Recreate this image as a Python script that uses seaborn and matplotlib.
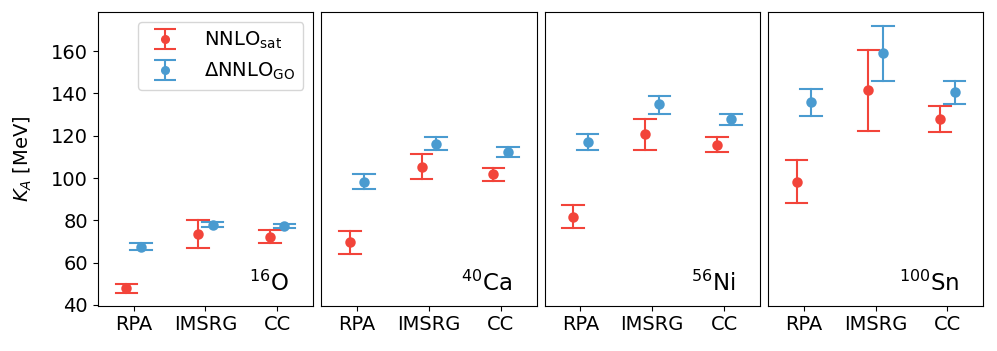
import numpy as np
import pandas as pd
import matplotlib
matplotlib.use("Agg")
import matplotlib.pyplot as plt
import seaborn as sns

methods = ["RPA", "IMSRG", "CC"]
nuclei = [r"$^{16}$O", r"$^{40}$Ca", r"$^{56}$Ni", r"$^{100}$Sn"]

# NNLO_sat: central value, lower and upper end of the error bar (per nucleus, per method)
sat_val = [[47.8, 73.6, 72.3], [69.6, 105.4, 101.8], [81.8, 120.7, 115.7], [98.3, 141.5, 128.0]]
sat_lo = [[45.8, 66.8, 69.5], [64.3, 99.6, 98.8], [76.3, 113.2, 112.2], [88.4, 122.2, 121.7]]
sat_hi = [[49.9, 80.2, 75.5], [74.8, 111.3, 104.6], [87.3, 128.1, 119.3], [108.3, 160.6, 134.1]]

# DeltaNNLO_GO
go_val = [[67.6, 78.0, 77.4], [98.3, 116.3, 112.2], [116.9, 134.9, 127.8], [135.9, 159.0, 140.6]]
go_lo = [[66.0, 76.9, 76.4], [94.6, 113.2, 110.0], [113.2, 130.5, 125.1], [129.4, 146.1, 134.8]]
go_hi = [[69.2, 79.4, 78.3], [102.1, 119.6, 114.7], [120.6, 139.0, 130.5], [142.3, 172.1, 146.1]]

labels = [r"NNLO$_{\rm sat}$", r"$\Delta$NNLO$_{\rm GO}$"]
colors = {labels[0]: "#F2443A", labels[1]: "#4A9BD0"}

# long table: each point stored as (lo, val, hi) -> median = val, range = error bar
rows = []
for lab, val, lo, hi in [(labels[0], sat_val, sat_lo, sat_hi), (labels[1], go_val, go_lo, go_hi)]:
    for i, nuc in enumerate(nuclei):
        for j, m in enumerate(methods):
            for v in (lo[i][j], val[i][j], hi[i][j]):
                rows.append({"nucleus": nuc, "method": m, "force": lab, "K": v})
df = pd.DataFrame(rows)

fig, axes = plt.subplots(1, 4, figsize=(9.97, 3.51), dpi=100, sharey=True)
fig.subplots_adjust(left=0.098, right=0.9863, top=0.965, bottom=0.129, wspace=0.037)

for i, (ax, nuc) in enumerate(zip(axes, nuclei)):
    sns.pointplot(data=df[df["nucleus"] == nuc], x="method", y="K", hue="force",
                  order=methods, hue_order=labels, palette=colors,
                  estimator="median", errorbar=lambda v: (v.min(), v.max()),
                  dodge=0.2, linestyle="none", markers="o", markersize=5.5,
                  capsize=0.3, err_kws={"linewidth": 1.5}, legend=False, ax=ax)
    ax.set_xlim(-0.5, 2.5)
    ax.set_ylim(39.6, 178.4)
    ax.set_xlabel("")
    ax.set_ylabel("")
    ax.tick_params(labelsize=14)
    ax.text(0.888, 0.035, nuc, transform=ax.transAxes, ha="right", va="bottom", fontsize=16.5)
    if i > 0:
        ax.tick_params(left=False)

axes[0].set_ylabel(r"$K_A$ [MeV]", fontsize=14, labelpad=12)
axes[0].set_yticks([40, 60, 80, 100, 120, 140, 160])

# legend handles drawn as error bars (nan data, nothing visible on the axes)
handles = []
for lab in labels:
    h = axes[0].errorbar([np.nan], [np.nan], yerr=[[1], [1]], fmt="o", color=colors[lab],
                         capsize=7.8, markersize=5.5, elinewidth=1.5, capthick=1.5, label=lab)
    handles.append(h)
axes[0].legend(handles=handles, labels=labels, loc="upper right", fontsize=14,
               handletextpad=1.0)

plt.savefig("out.png", dpi=100)
